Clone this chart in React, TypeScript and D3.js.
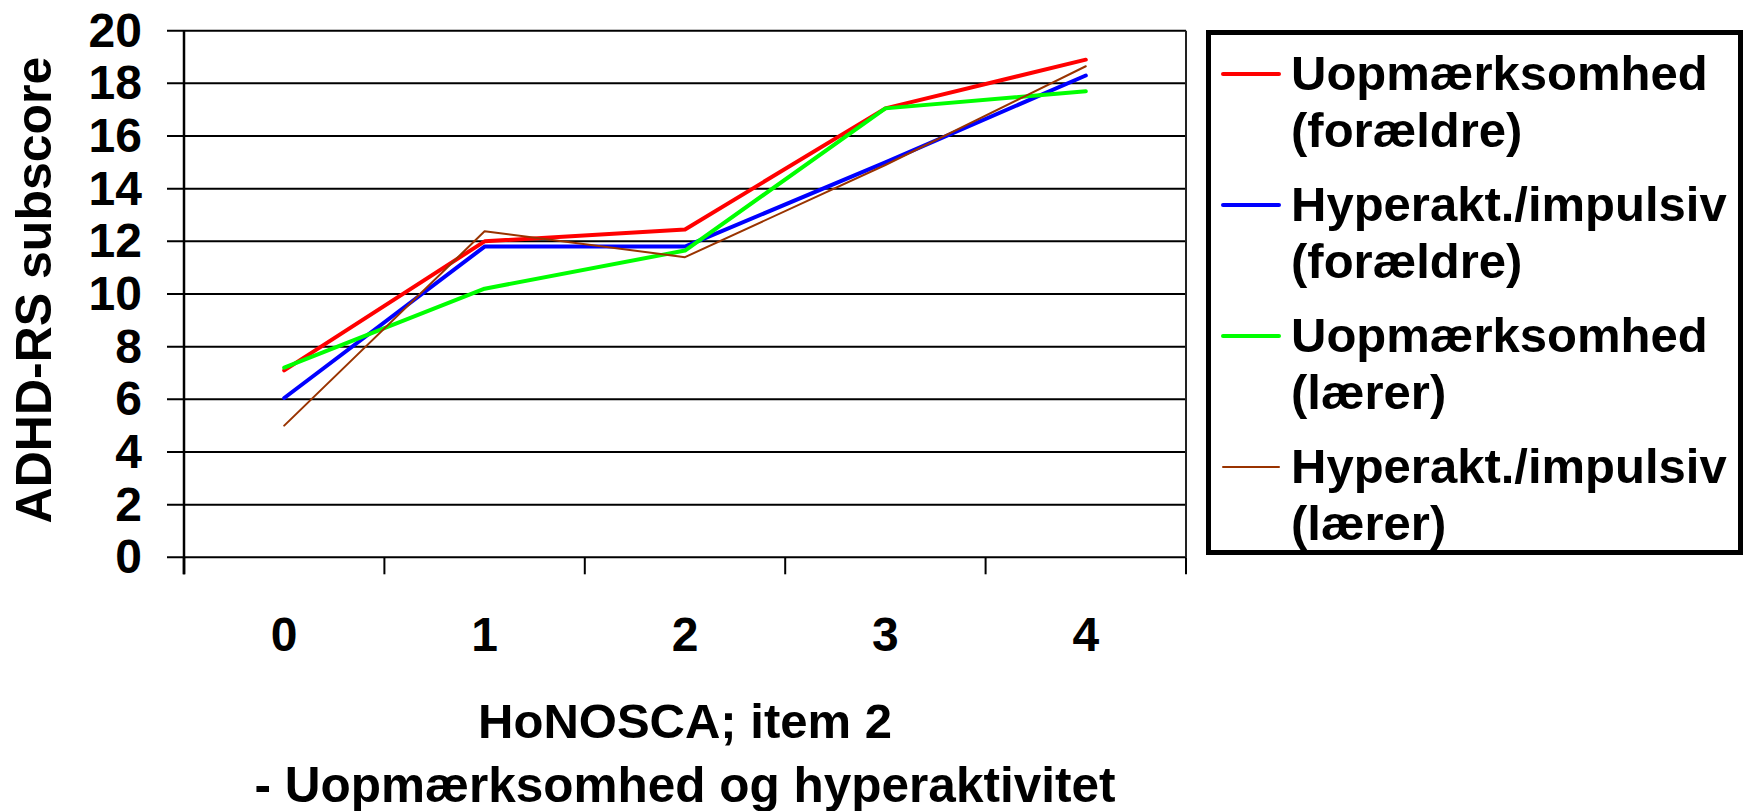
import React from "react";
import * as d3 from "d3";

const categories = ["0", "1", "2", "3", "4"];
const yTicks = [0, 2, 4, 6, 8, 10, 12, 14, 16, 18, 20];

const uopForaeldre = [7.1, 12.0, 12.45, 17.05, 18.9];
const hypForaeldre = [6.05, 11.8, 11.8, 15.0, 18.3];
const uopLaerer = [7.2, 10.2, 11.65, 17.05, 17.7];
const hypLaerer = [5.0, 12.38, 11.4, 14.9, 18.65];

const seriesNames = [
  ["Uopmærksomhed", "(forældre)"],
  ["Hyperakt./impulsiv", "(forældre)"],
  ["Uopmærksomhed", "(lærer)"],
  ["Hyperakt./impulsiv", "(lærer)"],
];
const seriesValues = [uopForaeldre, hypForaeldre, uopLaerer, hypLaerer];
const seriesColors = ["#FF0000", "#0000FF", "#00FF00", "#993300"];
const seriesWidths = [4, 4, 4, 2];

const W = 1747;
const H = 811;
const FONT = "'Liberation Sans', Arial, Helvetica, sans-serif";

export default function App() {
  const left = 184;
  const right = 1186;
  const top = 30.7;
  const bottom = 557.3;

  const x = d3.scaleBand<string>().domain(categories).range([left, right]).padding(0);
  const y = d3.scaleLinear().domain([0, 20]).range([bottom, top]);
  const cx = (c: string) => (x(c) as number) + x.bandwidth() / 2;

  const line = d3
    .line<number>()
    .x((_, i) => cx(categories[i]))
    .y((v) => y(v));

  const tickBoundaries = categories.map((c) => x(c) as number).concat([right]);

  return (
    <svg
      width={W}
      height={H}
      style={{ position: "absolute", left: 0, top: 0, background: "#fff" }}
      fontFamily={FONT}
      fontWeight="bold"
    >
      <rect x={0} y={0} width={W} height={H} fill="#fff" />
      {yTicks.map((t) => (
        <line key={"g" + t} x1={left - 17} x2={right} y1={y(t)} y2={y(t)} stroke="#000" strokeWidth={2} />
      ))}
      <line x1={right} x2={right} y1={top} y2={bottom} stroke="#222" strokeWidth={2} />
      {tickBoundaries.map((bx, i) => (
        <line key={"xt" + i} x1={bx} x2={bx} y1={bottom} y2={bottom + 17} stroke="#000" strokeWidth={i === 0 ? 2.5 : 2} />
      ))}
      <line x1={left} x2={left} y1={top} y2={bottom + 17} stroke="#000" strokeWidth={2.5} />
      {yTicks.map((t) => (
        <text key={"yl" + t} x={142} y={y(t) + 16} textAnchor="end" fontSize={48} fill="#000">
          {t}
        </text>
      ))}
      {categories.map((c) => (
        <text key={"xl" + c} x={cx(c)} y={651} textAnchor="middle" fontSize={48} fill="#000">
          {c}
        </text>
      ))}
      <text x={(left + right) / 2} y={738} textAnchor="middle" fontSize={49} fill="#000">
        HoNOSCA; item 2
      </text>
      <text x={(left + right) / 2} y={802} textAnchor="middle" fontSize={49.5} fill="#000">
        - Uopmærksomhed og hyperaktivitet
      </text>
      <text
        transform={`translate(51, 290) rotate(-90)`}
        textAnchor="middle"
        fontSize={50}
        fill="#000"
      >
        ADHD-RS subscore
      </text>
      {seriesValues.map((vals, i) => (
        <path
          key={"s" + i}
          d={line(vals) || ""}
          fill="none"
          stroke={seriesColors[i]}
          strokeWidth={seriesWidths[i]}
          strokeLinejoin="round"
          strokeLinecap="round"
        />
      ))}
      <rect x={1208.5} y={32.5} width={532} height={520} fill="#fff" stroke="#000" strokeWidth={5} />
      {seriesNames.map((lines, i) => {
        const base = 90 + i * 131;
        return (
          <g key={"lg" + i}>
            <line
              x1={1223}
              x2={1279}
              y1={base - 16}
              y2={base - 16}
              stroke={seriesColors[i]}
              strokeWidth={seriesWidths[i]}
              strokeLinecap="round"
            />
            <text x={1291} y={base} fontSize={49} fill="#000">
              {lines[0]}
            </text>
            <text x={1291} y={base + 57} fontSize={49} fill="#000">
              {lines[1]}
            </text>
          </g>
        );
      })}
    </svg>
  );
}
